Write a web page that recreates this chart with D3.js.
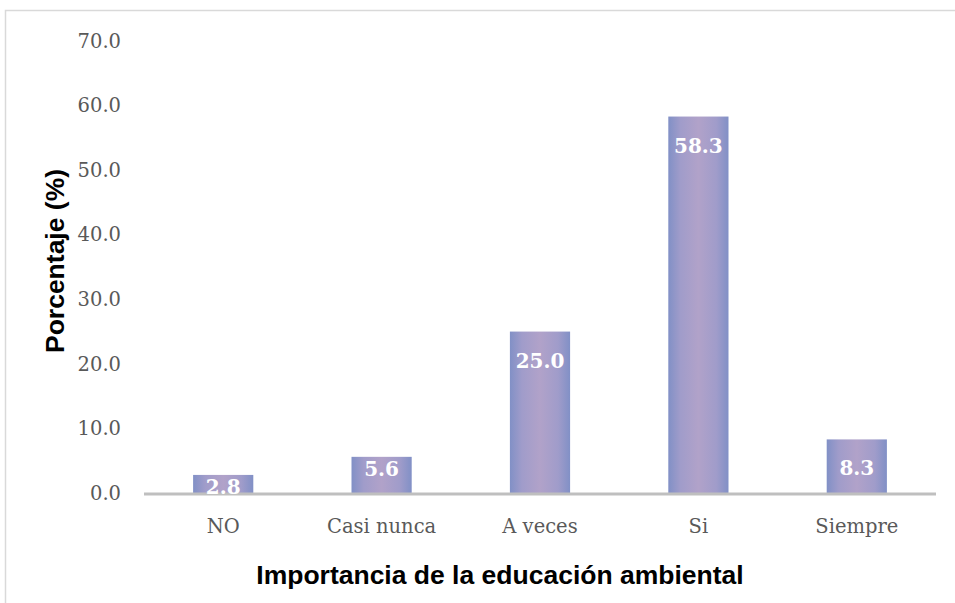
<!DOCTYPE html>
<html>
<head>
<meta charset="utf-8">
<script src="https://cdn.jsdelivr.net/npm/d3@7"></script>
<style>
  html, body { margin: 0; padding: 0; background: #fff; }
  svg { display: block; }
</style>
</head>
<body>
<div id="chart"></div>
<script>
// Categories and their percentages
const categories = ["NO", "Casi nunca", "A veces", "Si", "Siempre"];
const values = [2.8, 5.6, 25.0, 58.3, 8.3];
const yTicks = [0, 10, 20, 30, 40, 50, 60, 70];
const xTitle = "Importancia de la educación ambiental";
const yTitle = "Porcentaje (%)";

const W = 955, H = 603;
const svg = d3.select("#chart").append("svg")
  .attr("width", W).attr("height", H);

// Outer chart frame
svg.append("rect")
  .attr("x", 5.5).attr("y", 10.5)
  .attr("width", 1000).attr("height", 700)
  .attr("fill", "#fff").attr("stroke", "#d9d9d9").attr("stroke-width", 1.5);

const plot = { left: 144, right: 936, top: 41, bottom: 493 };

const x = d3.scaleBand()
  .domain(categories)
  .range([plot.left, plot.right])
  .paddingInner(0.62)
  .paddingOuter(0.31);

const y = d3.scaleLinear()
  .domain([0, 70])
  .range([plot.bottom, plot.top]);

// Bar fill: bluish edges fading to lavender in the middle
const defs = svg.append("defs");
const grad = defs.append("linearGradient")
  .attr("id", "barFill").attr("x1", "0").attr("x2", "1").attr("y1", "0").attr("y2", "0");
grad.append("stop").attr("offset", "0%").attr("stop-color", "#8190c6");
grad.append("stop").attr("offset", "20%").attr("stop-color", "#a09cca");
grad.append("stop").attr("offset", "50%").attr("stop-color", "#b1a2c9");
grad.append("stop").attr("offset", "80%").attr("stop-color", "#a09cca");
grad.append("stop").attr("offset", "100%").attr("stop-color", "#8190c6");

svg.append("g").selectAll("rect")
  .data(values)
  .join("rect")
  .attr("x", (d, i) => x(categories[i]))
  .attr("y", d => y(d))
  .attr("width", x.bandwidth())
  .attr("height", d => y(0) - y(d))
  .attr("fill", "url(#barFill)");

// Baseline
svg.append("line")
  .attr("x1", plot.left).attr("x2", plot.right)
  .attr("y1", y(0) + 1).attr("y2", y(0) + 1)
  .attr("stroke", "#bfbfbf").attr("stroke-width", 3);

const tickFont = "'DejaVu Serif', serif";

// Y axis (labels only)
const yAxis = d3.axisLeft(y)
  .tickValues(yTicks)
  .tickFormat(d3.format(".1f"))
  .tickSize(0)
  .tickPadding(0);
const gy = svg.append("g")
  .attr("transform", `translate(${121},0)`)
  .call(yAxis);
gy.select(".domain").remove();
gy.selectAll("text")
  .attr("font-family", tickFont)
  .attr("font-size", 19.5)
  .attr("fill", "#595959");

// X axis (labels only)
const xAxis = d3.axisBottom(x).tickSize(0).tickPadding(0);
const gx = svg.append("g")
  .attr("transform", `translate(0,${533})`)
  .call(xAxis);
gx.select(".domain").remove();
gx.selectAll("text")
  .attr("dy", null)
  .attr("font-family", tickFont)
  .attr("font-size", 19.5)
  .attr("fill", "#595959");

// Value labels inside the bar tops (kept inside short bars)
svg.append("g").selectAll("text")
  .data(values)
  .join("text")
  .attr("x", (d, i) => x(categories[i]) + x.bandwidth() / 2)
  .attr("y", d => {
    const h = y(0) - y(d);
    return y(d) + Math.min(36, Math.max(19, h - 17));
  })
  .attr("text-anchor", "middle")
  .attr("font-family", tickFont)
  .attr("font-weight", "bold")
  .attr("font-size", 20)
  .attr("fill", "#fff")
  .text(d => d3.format(".1f")(d));

// Axis titles
svg.append("text")
  .attr("x", 500).attr("y", 584)
  .attr("text-anchor", "middle")
  .attr("font-family", "'Liberation Sans', Arial, sans-serif")
  .attr("font-weight", "bold")
  .attr("font-size", 26.5)
  .attr("fill", "#000")
  .text(xTitle);

svg.append("text")
  .attr("transform", `translate(${64},${261}) rotate(-90)`)
  .attr("text-anchor", "middle")
  .attr("font-family", "'Liberation Sans', Arial, sans-serif")
  .attr("font-weight", "bold")
  .attr("font-size", 26.5)
  .attr("fill", "#000")
  .text(yTitle);
</script>
</body>
</html>
